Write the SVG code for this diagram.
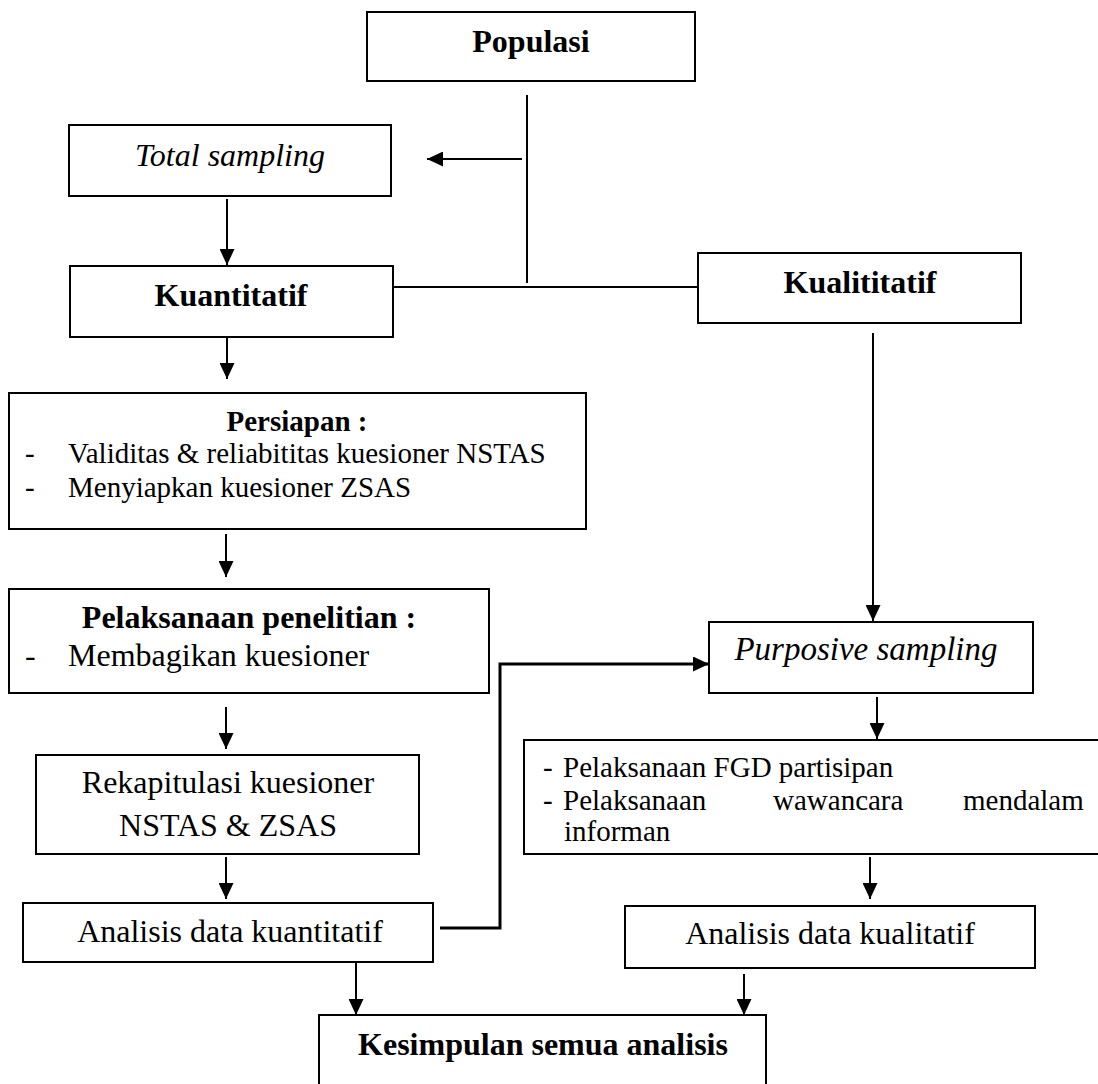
<svg xmlns="http://www.w3.org/2000/svg" width="1098" height="1084" viewBox="0 0 1098 1084">
<style>
.box{fill:#fff;stroke:#000;stroke-width:2}
.t{font-family:"Liberation Serif","Times New Roman",serif;font-size:32px;fill:#000}
.s{font-size:29px}
.b{font-weight:bold}
.i{font-style:italic}
.c{text-anchor:middle}
.ln{fill:none;stroke:#000;stroke-width:2}
.ar{fill:none;stroke:#000;stroke-width:2;marker-end:url(#ah)}
</style>
<defs>
<marker id="ah" markerUnits="userSpaceOnUse" markerWidth="16" markerHeight="15" refX="16" refY="7.5" orient="auto">
<path d="M0,0 L16,7.5 L0,15 z" fill="#000"/>
</marker>
</defs>
<rect width="1098" height="1084" fill="#fff"/>
<g id="connectors">
<line class="ln" x1="527" y1="95" x2="527" y2="283"/>
<line class="ar" x1="522" y1="159" x2="427" y2="159"/>
<line class="ar" x1="227" y1="199" x2="227" y2="265"/>
<line class="ln" x1="394" y1="287" x2="697" y2="287"/>
<line class="ar" x1="873" y1="333" x2="873" y2="621"/>
<line class="ar" x1="227" y1="338" x2="227" y2="379"/>
<line class="ar" x1="226" y1="534" x2="226" y2="577"/>
<line class="ar" x1="226" y1="707" x2="226" y2="749"/>
<line class="ar" x1="226" y1="857" x2="226" y2="899"/>
<path class="ar" style="stroke-width:3" d="M440,928 H500 V664 H709"/>
<line class="ar" x1="877" y1="697" x2="877" y2="739"/>
<line class="ar" x1="870" y1="857" x2="870" y2="899"/>
<line class="ar" x1="356" y1="962" x2="356" y2="1015"/>
<line class="ar" x1="744" y1="974" x2="744" y2="1015"/>
</g>
<g id="populasi">
<rect class="box" x="367" y="12" width="328" height="69"/>
<text class="t b c" x="531" y="52">Populasi</text>
</g>
<g id="total-sampling">
<rect class="box" x="69" y="125" width="322" height="71"/>
<text class="t i c" x="230" y="166">Total sampling</text>
</g>
<g id="kuantitatif">
<rect class="box" x="70" y="266" width="323" height="71"/>
<text class="t b c" x="231" y="306">Kuantitatif</text>
</g>
<g id="kualitatif">
<rect class="box" x="698" y="253" width="323" height="70"/>
<text class="t b c" x="860" y="293">Kualititatif</text>
</g>
<g id="persiapan">
<rect class="box" x="9" y="393" width="577" height="136"/>
<text class="t s b c" x="297" y="431">Persiapan :</text>
<text class="t s" x="25" y="463">-</text>
<text class="t s" x="68" y="463">Validitas &amp; reliabititas kuesioner NSTAS</text>
<text class="t s" x="25" y="497">-</text>
<text class="t s" x="68" y="497">Menyiapkan kuesioner ZSAS</text>
</g>
<g id="pelaksanaan">
<rect class="box" x="9" y="589" width="480" height="104"/>
<text class="t b c" x="249" y="628">Pelaksanaan penelitian :</text>
<text class="t" x="25" y="666">-</text>
<text class="t" x="68" y="666">Membagikan kuesioner</text>
</g>
<g id="rekapitulasi">
<rect class="box" x="36" y="755" width="383" height="99"/>
<text class="t c" x="228" y="793">Rekapitulasi kuesioner</text>
<text class="t c" x="228" y="836">NSTAS &amp; ZSAS</text>
</g>
<g id="analisis-kuantitatif">
<rect class="box" x="23" y="903" width="410" height="59"/>
<text class="t c" x="230" y="942">Analisis data kuantitatif</text>
</g>
<g id="purposive">
<rect class="box" x="709" y="622" width="324" height="71"/>
<text class="t i c" style="font-size:33px" x="866" y="660">Purposive sampling</text>
</g>
<g id="fgd">
<rect class="box" x="524" y="740" width="580" height="114"/>
<text class="t s" x="543" y="777">-</text>
<text class="t s" x="563" y="777">Pelaksanaan FGD partisipan</text>
<text class="t s" x="543" y="810">-</text>
<text class="t s" x="563" y="810">Pelaksanaan</text>
<text class="t s" x="773" y="810">wawancara</text>
<text class="t s" x="963" y="810">mendalam</text>
<text class="t s" x="564" y="841">informan</text>
</g>
<g id="analisis-kualitatif">
<rect class="box" x="625" y="906" width="410" height="62"/>
<text class="t c" x="830" y="944">Analisis data kualitatif</text>
</g>
<g id="kesimpulan">
<rect class="box" x="319" y="1015" width="447" height="80"/>
<text class="t b c" x="543" y="1055">Kesimpulan semua analisis</text>
</g>
</svg>
